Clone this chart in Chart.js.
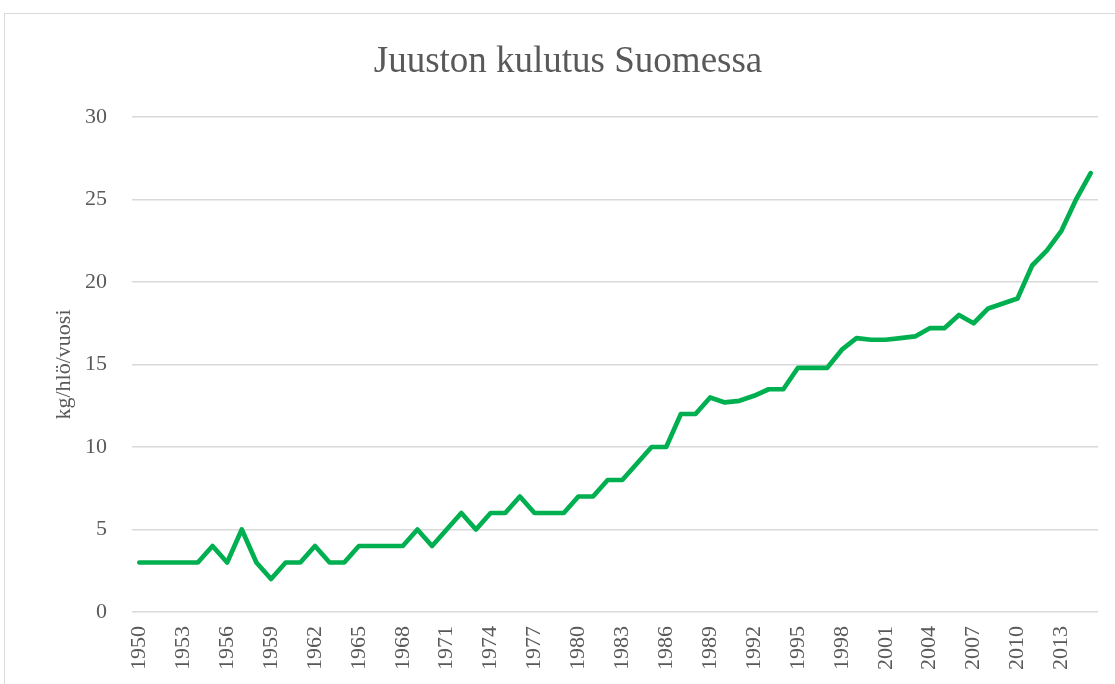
<!DOCTYPE html>
<html>
<head>
<meta charset="utf-8">
<script src="https://cdn.jsdelivr.net/npm/chart.js@4.4.0/dist/chart.umd.min.js"></script>
<style>
  html, body { margin: 0; padding: 0; background: #fff; }
  #wrap { position: relative; width: 1115px; height: 684px; overflow: hidden; }
  #frame { position: absolute; left: 4px; top: 13px; width: 1200px; height: 800px; border: 1px solid #d9d9d9; box-sizing: border-box; }
  #myChart { position: absolute; left: 0; top: 0; }
</style>
</head>
<body>
<div id="wrap">
  <div id="frame"></div>
  <canvas id="myChart" width="1115" height="684"></canvas>
</div>
<script>
// years 1950..2015
const years = [];
for (let y = 1950; y <= 2015; y++) years.push(String(y));

// cheese consumption, kg per person per year
const kulutus = [
  3, 3, 3, 3, 3, 4, 3, 5, 3, 2,          // 1950-1959
  3, 3, 4, 3, 3, 4, 4, 4, 4, 5,          // 1960-1969
  4, 5, 6, 5, 6, 6, 7, 6, 6, 6,          // 1970-1979
  7, 7, 8, 8, 9, 10, 10, 12, 12, 13,     // 1980-1989
  12.7, 12.8, 13.1, 13.5, 13.5, 14.8, 14.8, 14.8, 15.9, 16.6, // 1990-1999
  16.5, 16.5, 16.6, 16.7, 17.2, 17.2, 18.0, 17.5, 18.4, 18.7, // 2000-2009
  19.0, 21.0, 21.9, 23.1, 25.0, 26.6     // 2010-2015
];

const chartTitle = 'Juuston kulutus Suomessa';
const yTitle = 'kg/hlö/vuosi';

const textColor = '#595959';
const gridColor = '#d9d9d9';
const serif = "'Liberation Serif', 'DejaVu Serif', serif";

const ctx = document.getElementById('myChart');
new Chart(ctx, {
  type: 'line',
  data: {
    labels: years,
    datasets: [{
      label: 'Juusto',
      data: kulutus,
      borderColor: '#00b050',
      backgroundColor: '#00b050',
      borderWidth: 4.7,
      pointRadius: 0,
      tension: 0,
      borderJoinStyle: 'round',
      borderCapStyle: 'round'
    }]
  },
  options: {
    responsive: false,
    animation: false,
    layout: { padding: { left: 38, right: 17, top: 0, bottom: 0 } },
    plugins: {
      legend: { display: false },
      tooltip: { enabled: false },
      title: {
        display: true,
        text: chartTitle,
        color: textColor,
        font: { family: serif, size: 37, weight: 'normal', lineHeight: 1.0 },
        padding: { top: 44, bottom: 36 }
      }
    },
    scales: {
      x: {
        offset: true,
        grid: { display: false, drawTicks: false },
        border: { display: false },
        afterFit: (scale) => {
          scale.height = 72;
          // no extra room for the rotated end labels
          scale.paddingLeft = 0;
          scale.paddingRight = 0;
        },
        ticks: {
          autoSkip: false,
          minRotation: 90,
          maxRotation: 90,
          padding: 14,
          color: textColor,
          font: { family: serif, size: 22 },
          callback: function (val, i) { return i % 3 === 0 ? this.getLabelForValue(val) : ''; }
        }
      },
      y: {
        min: 0,
        max: 30,
        grid: { color: gridColor, lineWidth: 1.5, drawTicks: false },
        border: { display: false },
        afterFit: (scale) => { scale.width = 94; },
        ticks: {
          stepSize: 5,
          padding: 25,
          color: textColor,
          font: { family: serif, size: 22 }
        },
        title: {
          display: true,
          text: yTitle,
          color: textColor,
          font: { family: serif, size: 22 },
          padding: { top: 13 }
        }
      }
    }
  }
});
</script>
</body>
</html>
